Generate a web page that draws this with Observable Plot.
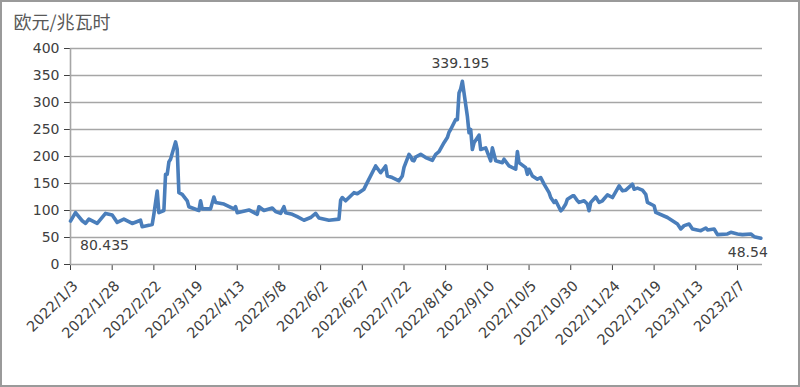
<!DOCTYPE html>
<html>
<head>
<meta charset="utf-8">
<script src="https://cdn.jsdelivr.net/npm/d3@7"></script>
<script src="https://cdn.jsdelivr.net/npm/@observablehq/plot@0.6"></script>
<style>
  html, body { margin: 0; padding: 0; background: #fff; }
  #wrap { position: relative; width: 800px; height: 387px; }
  #frame { position: absolute; left: 0; top: 0; width: 800px; height: 387px; box-sizing: border-box; border: 2px solid #9a9a9a; pointer-events: none; }
</style>
</head>
<body>
<div id="wrap"><div id="frame"></div></div>
<script>
const unitLabel = "欧元/兆瓦时";

const dates = [
  "2022-01-03","2022-01-06","2022-01-10","2022-01-12","2022-01-14","2022-01-19","2022-01-24","2022-01-28","2022-01-31",
  "2022-02-04","2022-02-09","2022-02-14","2022-02-15","2022-02-21","2022-02-22","2022-02-24","2022-02-25","2022-02-28",
  "2022-03-01","2022-03-02","2022-03-03","2022-03-04","2022-03-07","2022-03-08","2022-03-09","2022-03-11","2022-03-14",
  "2022-03-15","2022-03-21","2022-03-22","2022-03-23","2022-03-28","2022-03-30","2022-03-31","2022-04-05","2022-04-11",
  "2022-04-12","2022-04-13","2022-04-20","2022-04-25","2022-04-26","2022-04-29","2022-05-04","2022-05-06","2022-05-09",
  "2022-05-11","2022-05-12","2022-05-16","2022-05-19","2022-05-23","2022-05-27","2022-05-30","2022-06-01","2022-06-07",
  "2022-06-13","2022-06-14","2022-06-15","2022-06-17","2022-06-22","2022-06-24","2022-06-28","2022-06-30","2022-07-05",
  "2022-07-08","2022-07-11","2022-07-12","2022-07-15","2022-07-19","2022-07-21","2022-07-22","2022-07-25","2022-07-26",
  "2022-07-27","2022-07-28","2022-07-29","2022-08-01","2022-08-04","2022-08-08","2022-08-10","2022-08-12","2022-08-15",
  "2022-08-17","2022-08-18","2022-08-19","2022-08-22","2022-08-23","2022-08-24","2022-08-25","2022-08-26","2022-08-29",
  "2022-08-30","2022-08-31","2022-09-01","2022-09-02","2022-09-05","2022-09-06","2022-09-09","2022-09-12","2022-09-13",
  "2022-09-15","2022-09-19","2022-09-20","2022-09-23","2022-09-27","2022-09-28","2022-09-29","2022-10-03","2022-10-04",
  "2022-10-05","2022-10-07","2022-10-10","2022-10-12","2022-10-14","2022-10-17","2022-10-18","2022-10-20","2022-10-21",
  "2022-10-24","2022-10-25","2022-10-27","2022-10-28","2022-10-31","2022-11-01","2022-11-03","2022-11-04","2022-11-07",
  "2022-11-09","2022-11-10","2022-11-11","2022-11-14","2022-11-16","2022-11-18","2022-11-21","2022-11-24","2022-11-28",
  "2022-11-30","2022-12-02","2022-12-06","2022-12-07","2022-12-09","2022-12-12","2022-12-14","2022-12-15","2022-12-19",
  "2022-12-20","2022-12-27","2023-01-02","2023-01-04","2023-01-06","2023-01-09","2023-01-11","2023-01-16","2023-01-19",
  "2023-01-20","2023-01-24","2023-01-26","2023-02-01","2023-02-03","2023-02-07","2023-02-10","2023-02-15","2023-02-17",
  "2023-02-21"
];

const prices = [
  80.435,96,81,76,84,76,94.6,91.6,78,
  84,76,82,70,74,93,136,96,100,
  167,167,190,195,227,213,133,130,118,
  107,100,118,103,103,125,115,112,103,
  107,96,101,93,107,100,104.5,98,94.6,
  107,96,93,88.5,82,87,94.6,86,82,
  84,119,124,118,133,131,139.5,152,182.5,
  170,182.5,164,161,155,164,180,204,200,
  193,192,199,204,198,193,204,209,225.5,
  235,245,250,268.6,268,317.6,325,339.195,274.6,
  244,250,213,225.5,239.6,213,216,192,216,
  192,188.6,195,182.5,176.4,209,188.6,179.4,167,
  176.4,164,158,161,148.8,133,124,115,118,
  99.5,102,112,121,127,127,118,115,118,
  112,99.5,115,125,115,118,129,124,145.6,
  136.4,137.6,148.8,139.5,141.4,137.6,130,115,108.8,
  96.4,87,75,65.8,72,75,65.8,62.7,67.6,
  64,65.8,55.3,56.6,59.5,56.6,55.3,56.6,51.6,
  48.54
];

const xTickDates = [
  "2022-01-03","2022-01-28","2022-02-22","2022-03-19","2022-04-13","2022-05-08","2022-06-02","2022-06-27",
  "2022-07-22","2022-08-16","2022-09-10","2022-10-05","2022-10-30","2022-11-24","2022-12-19","2023-01-13","2023-02-07"
];
const yTicks = [0, 50, 100, 150, 200, 250, 300, 350, 400];

const labelledDates = ["2022-01-03", "2022-08-26", "2023-02-21"];
const labelTexts = ["80.435", "339.195", "48.54"];

const parse = d3.utcParse("%Y-%m-%d");
const data = dates.map((d, i) => ({date: parse(d), value: prices[i]}));
const xTicks = xTickDates.map(parse);
const xDomain = [parse("2022-01-03"), parse("2023-02-22")];
const labelRows = labelledDates.map((d, i) => ({date: parse(d), value: prices[dates.indexOf(d)], text: labelTexts[i]}));

const gridColor = "#a6a6a6";
const textColor = "#404040";

const chart = Plot.plot({
  width: 800,
  height: 387,
  marginLeft: 70,
  marginRight: 38,
  marginTop: 48,
  marginBottom: 123,
  style: {fontFamily: "DejaVu Sans", fontSize: "14px", color: textColor, background: "transparent", overflow: "visible"},
  x: {type: "utc", domain: xDomain, ticks: xTicks, tickFormat: d3.utcFormat("%Y/%-m/%-d"), tickRotate: -45, tickSize: 6, tickPadding: 4, label: null},
  y: {domain: [0, 400], ticks: yTicks, tickSize: 6, tickPadding: 5, label: null},
  marks: [
    Plot.ruleY(yTicks, {stroke: gridColor, strokeWidth: 1.6}),
    Plot.ruleX([xDomain[0]], {y1: 0, y2: 400, stroke: gridColor, strokeWidth: 1.6}),
    Plot.line(data, {x: "date", y: "value", stroke: "#4a7ebb", strokeWidth: 3.6, strokeLinejoin: "round", strokeLinecap: "round"}),
    Plot.text([labelRows[0]], {x: "date", y: "value", text: "text", dx: 34, dy: 24, fill: textColor, fontSize: 14}),
    Plot.text([labelRows[1]], {x: "date", y: "value", text: "text", dx: -2, dy: -18, fill: textColor, fontSize: 14}),
    Plot.text([labelRows[2]], {x: "date", y: "value", text: "text", dx: -13, dy: 14, fill: textColor, fontSize: 14}),
    Plot.text([unitLabel], {frameAnchor: "top-left", dx: -57, dy: -32, textAnchor: "start", fill: "#595959", fontSize: 18, fontFamily: "Noto Sans CJK SC"})
  ]
});
// nudge rotated x tick labels to sit like the reference
const xLabels = chart.querySelector('g[aria-label="x-axis tick label"]');
if (xLabels) {
  const t = xLabels.getAttribute("transform") || "";
  xLabels.setAttribute("transform", t + " translate(5,9)");
  xLabels.setAttribute("font-size", "14.5");
}
chart.style.position = "absolute";
chart.style.left = "0px";
chart.style.top = "0px";
document.getElementById("wrap").insertBefore(chart, document.getElementById("frame"));
</script>
</body>
</html>
